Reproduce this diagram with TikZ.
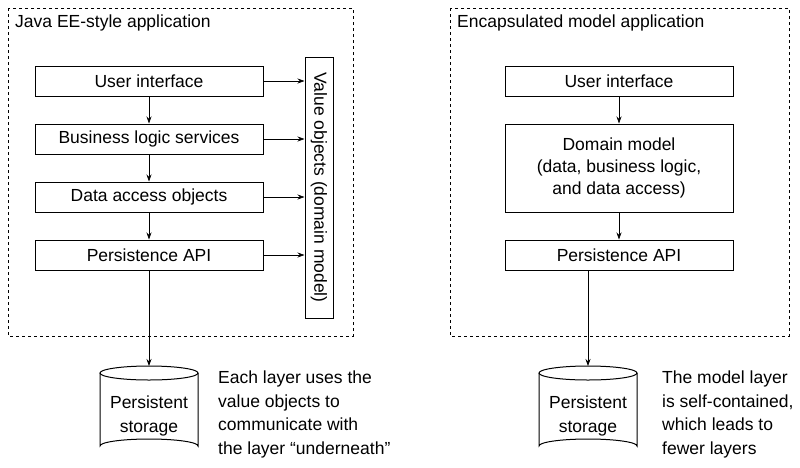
\documentclass[tikz,border=0pt]{standalone}
\usepackage{fontspec}
\setmainfont{Liberation Sans}
\usetikzlibrary{arrows.meta}
\begin{document}
\begin{tikzpicture}[x=1pt,y=-1pt,
  box/.style={draw,line width=1pt,minimum width=228pt,minimum height=30pt,inner sep=0pt,align=center,font=\fontsize{17.5}{20}\selectfont},
  grp/.style={draw,dashed,line width=0.7pt},
  arr/.style={-{Stealth[length=7pt,width=5pt]},line width=0.7pt},
  lbl/.style={font=\fontsize{17.5}{20}\selectfont,inner sep=0pt},
  txt/.style={font=\fontsize{17.5}{23.5}\selectfont,align=left,anchor=north west,inner sep=0pt}]
\useasboundingbox (0,0) rectangle (800,467);
\draw[grp] (8,8) rectangle (353,336);
\draw[grp] (450,8) rectangle (789,336);
\node[lbl,anchor=west] (t1) at (15,23) {Java EE-style application};
\node[lbl,anchor=west] (t2) at (457,23) {Encapsulated model application};
% left
\node[box] (ui) at (149,81) {User interface};
\node[box] (bl) at (149,139) {Business logic services};
\node[box] (da) at (149,197) {Data access objects};
\node[box] (pa) at (149,255) {Persistence API};
\node[draw,line width=1pt,minimum width=28pt,minimum height=261pt,inner sep=0pt] (vo) at (319,187.5) {};
\node[lbl,rotate=-90] (vot) at (319,187.5) {Value objects (domain model)};
\foreach \n in {ui,bl,da,pa} \draw[arr] (\n.east) -- (\n.east -| vo.west);
\draw[arr] (ui) -- (bl); \draw[arr] (bl) -- (da); \draw[arr] (da) -- (pa);
% cylinders
\foreach \c/\x in {c1/149,c2/588}{
  \draw[line width=1pt,fill=white] (\x-49,373) -- (\x-49,446) arc[start angle=180,end angle=360,x radius=49,y radius=7] -- (\x+49,373);
  \draw[line width=1pt] (\x,373) ellipse[x radius=49,y radius=7];
  \coordinate (\c) at (\x,366);
}
\node[lbl,align=center,font=\fontsize{17.5}{23.5}\selectfont] (s1) at (149,416) {Persistent\\storage};
\node[lbl,align=center,font=\fontsize{17.5}{23.5}\selectfont] (s2) at (588,416) {Persistent\\storage};
\draw[arr] (pa) -- (c1);
\node[txt] (n1) at (218,371) {Each layer uses the\\value objects to\\communicate with\\the layer “underneath”};
% right
\node[box] (ui2) at (619,81) {User interface};
\node[box,minimum height=88pt,font=\fontsize{17.5}{22}\selectfont] (dm) at (619,168) {Domain model\\(data, business logic,\\and data access)};
\node[box] (pa2) at (619,255) {Persistence API};
\draw[arr] (ui2) -- (dm); \draw[arr] (dm) -- (pa2);
\draw[arr] (pa2.south -| c2) -- (c2);
\node[txt] (n2) at (662,371) {The model layer\\is self-contained,\\which leads to\\fewer layers};
\end{tikzpicture}
\end{document}
